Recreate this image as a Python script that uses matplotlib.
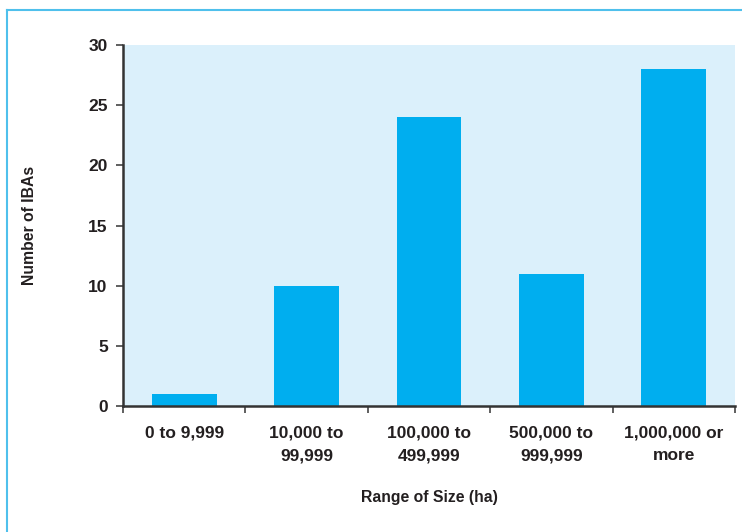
import matplotlib
matplotlib.use("Agg")
import matplotlib.pyplot as plt
from matplotlib.lines import Line2D
import numpy as np

categories = ["0 to 9,999", "10,000 to\n99,999", "100,000 to\n499,999",
              "500,000 to\n999,999", "1,000,000 or\nmore"]
counts = [1, 10, 24, 11, 28]
y_ticks = [0, 5, 10, 15, 20, 25, 30]

plt.rcParams['font.family'] = ['Liberation Sans', 'DejaVu Sans']
text_color = "#231f20"
bar_color = "#00aeef"
panel_color = "#dbf0fb"

W, H = 742, 532
fig = plt.figure(figsize=(W / 100, H / 100), dpi=100)
ax = fig.add_axes([123 / W, 1 - 406 / H, (735 - 123) / W, (406 - 45) / H])
ax.set_facecolor(panel_color)

x = np.arange(len(categories))
ax.bar(x, counts, width=0.53, color=bar_color, zorder=2)

ax.set_xlim(-0.5, len(categories) - 0.5)
ax.set_ylim(0, 30)
ax.set_yticks(y_ticks)
ax.set_yticklabels([str(v) for v in y_ticks], fontsize=12.5, fontweight="bold", color=text_color)
ax.set_xticks(x)
ax.set_xticklabels(categories, fontsize=12.5, fontweight="bold", color=text_color, linespacing=1.65)
ax.tick_params(axis="x", length=0, pad=14)
ax.set_xticks(np.arange(-0.5, len(categories)), minor=True)
ax.tick_params(axis="x", which="minor", length=5, width=1.2, color="#444444", direction="out")
ax.tick_params(axis="y", length=5, width=1.2, color="#444444", direction="out", pad=6)

for side in ["top", "right"]:
    ax.spines[side].set_visible(False)
for side in ["left", "bottom"]:
    ax.spines[side].set_color("#333333")
    ax.spines[side].set_linewidth(1.8)

ax.set_xlabel("Range of Size (ha)", fontsize=11.3, fontweight="bold", color=text_color, labelpad=19)
fig.text(30 / W, 1 - 225 / H, "Number of IBAs", rotation=90, ha="center", va="center",
         fontsize=11.3, fontweight="bold", color=text_color)

# thin frame along the top and left edges of the figure
frame_color = "#4fc0ec"
fig.add_artist(Line2D([7 / W, 1], [1 - 10 / H, 1 - 10 / H], color=frame_color, lw=1.5))
fig.add_artist(Line2D([7 / W, 7 / W], [0, 1 - 10 / H], color=frame_color, lw=1.5))

fig.savefig("out.png", dpi=100)
